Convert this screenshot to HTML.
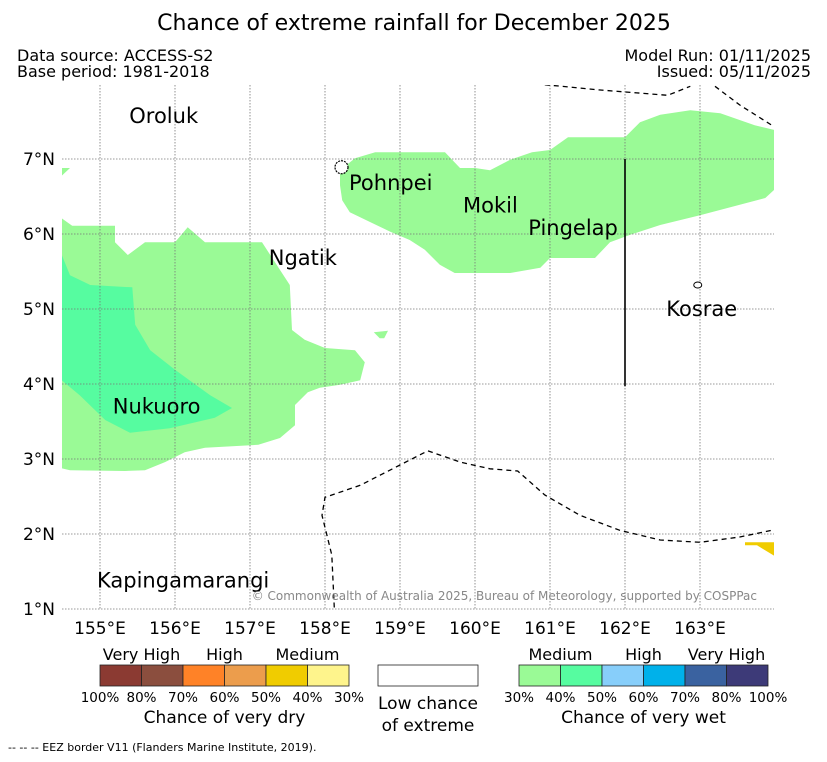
<!DOCTYPE html>
<html><head><meta charset="utf-8"><style>
body{margin:0;background:#fff;font-family:"DejaVu Sans","Liberation Sans",sans-serif;}
svg text{font-family:"DejaVu Sans","Liberation Sans",sans-serif;}
</style></head><body>
<svg id="c" width="827" height="758" xmlns="http://www.w3.org/2000/svg">
<rect width="827" height="758" fill="#fff"/>
<text x="414" y="30" font-size="22" text-anchor="middle">Chance of extreme rainfall for December 2025</text>
<text x="17" y="61" font-size="16">Data source: ACCESS-S2</text>
<text x="17" y="77" font-size="16">Base period: 1981-2018</text>
<text x="811" y="61" font-size="16" text-anchor="end">Model Run: 01/11/2025</text>
<text x="811" y="77" font-size="16" text-anchor="end">Issued: 05/11/2025</text>
<defs><clipPath id="mc"><rect x="62" y="85" width="712" height="525"/></clipPath></defs>
<g id="map" clip-path="url(#mc)"></g>
<g id="axes"></g>
<g id="legend"></g>
<text x="8" y="751" font-size="11">-- -- -- EEZ border V11 (Flanders Marine Institute, 2019).</text>
</svg>
<script>
const lonTicks=[155,156,157,158,159,160,161,162,163];
const latTicks=[7,6,5,4,3,2,1];
const westLight=[[154.49,6.21],[154.63,6.11],[155.2,6.11],[155.2,5.89],[155.37,5.72],[155.6,5.89],[156.0,5.89],[156.17,6.09],[156.4,5.89],[157.16,5.89],[157.53,5.32],[157.56,4.72],[157.73,4.59],[158.0,4.48],[158.4,4.45],[158.53,4.29],[158.47,4.05],[158.2,3.99],[157.93,3.95],[157.77,3.89],[157.6,3.72],[157.6,3.45],[157.4,3.28],[157.11,3.19],[156.4,3.15],[156.13,3.09],[155.87,2.96],[155.6,2.85],[155.33,2.84],[154.6,2.85],[154.3,2.92],[154.3,6.3]];
const westTeal=[[154.3,5.72],[154.49,5.72],[154.6,5.45],[154.87,5.32],[155.43,5.29],[155.47,4.79],[155.67,4.45],[156.0,4.19],[156.47,3.85],[156.76,3.68],[156.53,3.55],[155.93,3.41],[155.4,3.35],[155.07,3.52],[154.73,3.85],[154.49,4.05],[154.3,4.05]];
const eastLight=[[158.2,6.85],[158.4,7.01],[158.67,7.09],[159.6,7.09],[159.8,6.88],[160.0,6.88],[160.2,6.85],[160.47,6.99],[160.76,7.09],[161.0,7.12],[161.24,7.29],[162.0,7.29],[162.2,7.49],[162.47,7.59],[162.87,7.65],[163.27,7.61],[163.73,7.45],[164.1,7.36],[164.1,6.69],[163.87,6.48],[163.53,6.39],[163.0,6.25],[162.47,6.12],[162.07,5.99],[161.8,5.89],[161.6,5.68],[161.0,5.68],[160.87,5.55],[160.47,5.48],[159.73,5.48],[159.53,5.59],[159.33,5.79],[159.13,5.92],[158.87,6.03],[158.6,6.16],[158.33,6.29],[158.23,6.45],[158.2,6.65]];
const blob=[[158.65,4.69],[158.84,4.71],[158.79,4.61],[158.73,4.61]];
const tri=[[154.3,6.88],[154.6,6.88],[154.3,6.6]];
const yellow=[[163.6,1.89],[164.1,1.89],[164.1,1.71],[163.99,1.71],[163.76,1.85],[163.6,1.85]];
const eezBottom=[[158.13,0.9],[158.09,1.72],[157.96,2.25],[158.0,2.49],[158.47,2.65],[159.0,2.92],[159.37,3.11],[159.8,2.96],[160.2,2.87],[160.57,2.84],[160.93,2.52],[161.4,2.25],[161.93,2.05],[162.47,1.92],[163.0,1.89],[163.53,1.96],[164.1,2.08]];
const eezTop=[[160.93,7.99],[161.67,7.92],[162.57,7.85],[162.87,7.97]];
const eezTopRight=[[163.2,7.97],[163.53,7.72],[164.1,7.36]];
const places=[["Oroluk",155.39,7.48],["Pohnpei",158.32,6.59],["Ngatik",157.25,5.59],["Mokil",159.84,6.29],["Pingelap",160.71,5.99],["Kosrae",162.55,4.91],["Nukuoro",155.17,3.61],["Kapingamarangi",154.96,1.29]];
const dryLabels=["100%","80%","70%","60%","50%","40%","30%"];
const dryColors=["#8b3a32","#8b4e3e","#ff8227","#ec9d4c","#f0cc00","#fef48c"];
const wetLabels=["30%","40%","50%","60%","70%","80%","100%"];
const wetColors=["#9afa96","#56fca0","#87cefa","#00b1ea","#3a62a0","#3d3a78"];
const X=lon=>100+(lon-155)*75, Y=lat=>159-(lat-7)*75;
const NS="http://www.w3.org/2000/svg";
function mk(tag,attrs,parent){const e=document.createElementNS(NS,tag);for(const k in attrs)e.setAttribute(k,attrs[k]);parent.appendChild(e);return e;}
const map=document.getElementById('map'),axes=document.getElementById('axes'),leg=document.getElementById('legend');
const pts=a=>a.map(p=>X(p[0]).toFixed(1)+','+Y(p[1]).toFixed(1)).join(' ');
function poly(a,fill,name){const e=mk('polygon',{points:pts(a),fill:fill},map);

}
poly(westLight,'#9afa96','wet-medium-region-west');
poly(westTeal,'#56fca0','wet-medium-high-region-west');
poly(eastLight,'#9afa96','wet-medium-region-east');
poly(blob,'#9afa96','wet-medium-blob');
poly(tri,'#9afa96','wet-medium-corner');
poly(yellow,'#f0cc00','dry-medium-region');
lonTicks.forEach(l=>{const e=mk('line',{x1:X(l),x2:X(l),y1:85,y2:610,stroke:'#777','stroke-width':0.8,'stroke-dasharray':'1.5,1.5'},map);


const t=mk('text',{x:X(l),y:634,'font-size':17,'text-anchor':'middle'},axes);t.textContent=l+'°E';

});
latTicks.forEach(l=>{const e=mk('line',{x1:62,x2:774,y1:Y(l),y2:Y(l),stroke:'#777','stroke-width':0.8,'stroke-dasharray':'1.5,1.5'},map);


const t=mk('text',{x:55,y:Y(l)+6,'font-size':17,'text-anchor':'end'},axes);t.textContent=l+'°N';

});
[eezBottom,eezTop,eezTopRight].forEach(a=>{const e=mk('polyline',{points:pts(a),fill:'none',stroke:'#000','stroke-width':1.3,'stroke-dasharray':'5,4'},map);

});
let v=mk('line',{x1:X(162),x2:X(162),y1:Y(7),y2:Y(3.97),stroke:'#000','stroke-width':1.6},map);


let pi=mk('circle',{cx:X(158.22),cy:Y(6.89),r:6.5,fill:'#fff',stroke:'#000','stroke-width':1.2,'stroke-dasharray':'2,1'},map);


let ki=mk('ellipse',{cx:X(162.97),cy:Y(5.32),rx:4,ry:3,fill:'#fff',stroke:'#000','stroke-width':1},map);


places.forEach(p=>{const t=mk('text',{x:X(p[1]),y:Y(p[2]),'font-size':21},map);t.textContent=p[0];

});
let cp=mk('text',{x:757,y:600,'font-size':12,fill:'#888','text-anchor':'end'},map);cp.textContent='© Commonwealth of Australia 2025, Bureau of Meteorology, supported by COSPPac';


function bar(x0,colors,labels,title,heads,nm){const w=41.5;
colors.forEach((c,i)=>{const r=mk('rect',{x:x0+i*w,y:665,width:w,height:21,fill:c,stroke:'#222','stroke-width':0.8},leg);

});
labels.forEach((l,i)=>{const t=mk('text',{x:x0+i*w,y:702,'font-size':13.5,'text-anchor':'middle'},leg);t.textContent=l;

});
const t=mk('text',{x:x0+3*w,y:723,'font-size':17,'text-anchor':'middle'},leg);t.textContent=title;


heads.forEach(h=>{const e=mk('text',{x:x0+h[1]*w,y:660,'font-size':16,'text-anchor':'middle'},leg);e.textContent=h[0];

});}
bar(100,dryColors,dryLabels,'Chance of very dry',[["Very High",1],["High",3],["Medium",5]],'dry-legend');
bar(519,wetColors,wetLabels,'Chance of very wet',[["Medium",1],["High",3],["Very High",5]],'wet-legend');
let lr=mk('rect',{x:378,y:665,width:100,height:21,fill:'#fff',stroke:'#222','stroke-width':0.8},leg);


[['Low chance',709],['of extreme',731]].forEach(s=>{const t=mk('text',{x:428,y:s[1],'font-size':17,'text-anchor':'middle'},leg);t.textContent=s[0];

});
</script>
</body></html>
